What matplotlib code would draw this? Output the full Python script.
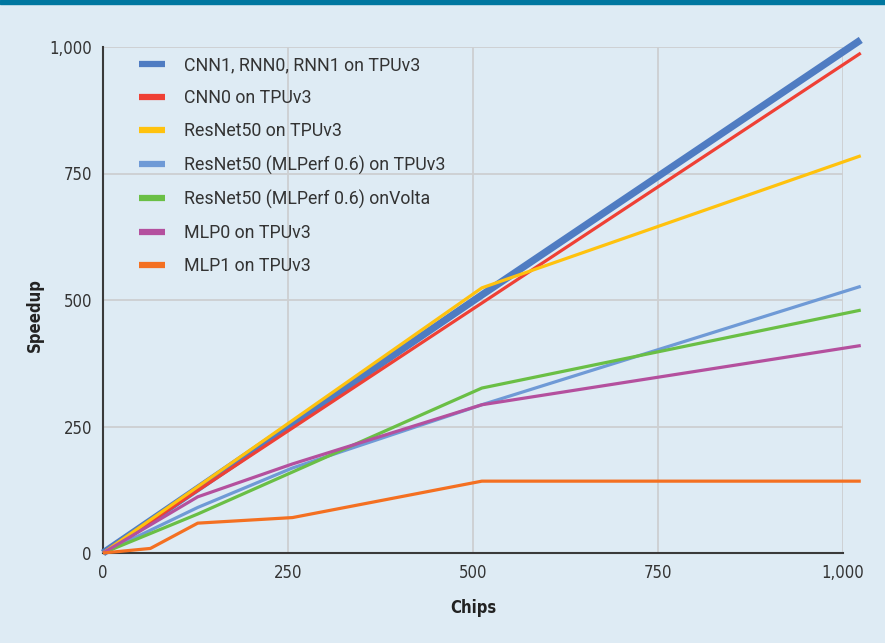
import matplotlib
matplotlib.use('Agg')
import matplotlib.pyplot as plt
from matplotlib.lines import Line2D

# chips / speedup
chips_a = [0, 512, 1024]
cnn1 = [0, 510, 1014]
cnn0 = [0, 494, 988]
resnet = [0, 524, 785]
chips_b = [0, 128, 256, 512, 1024]
resnet_mlperf = [0, 90, 168, 293, 527]
resnet_volta = [0, 77, 160, 326, 480]
mlp0 = [0, 111, 176, 293, 410]
chips_c = [0, 64, 128, 256, 512, 1024]
mlp1 = [0, 9, 59, 70, 142, 142]

labels = ['CNN1, RNN0, RNN1 on TPUv3', 'CNN0 on TPUv3', 'ResNet50 on TPUv3',
          'ResNet50 (MLPerf 0.6) on TPUv3', 'ResNet50 (MLPerf 0.6) onVolta',
          'MLP0 on TPUv3', 'MLP1 on TPUv3']
colors = ['#4f7cc2', '#ef4035', '#ffc20e', '#6f9ad6', '#6abf45', '#b4509e', '#f47021']

bg = '#deebf4'

fig = plt.figure(figsize=(8.85, 6.43), dpi=100, facecolor=bg)
ax = fig.add_axes([103/885, 90/643, 740/885, 506/643])
ax.set_facecolor(bg)

series = [(chips_a, cnn1, 5.2), (chips_a, cnn0, 2.3), (chips_a, resnet, 2.3),
          (chips_b, resnet_mlperf, 2.3), (chips_b, resnet_volta, 2.3),
          (chips_b, mlp0, 2.3), (chips_c, mlp1, 2.3)]
for (x, y, lw), c in zip(series, colors):
    ax.plot(x, y, color=c, lw=lw, clip_on=False, solid_capstyle='butt', zorder=3)

ax.set_xlim(0, 1000)
ax.set_ylim(0, 1000)
ax.set_xticks([0, 250, 500, 750, 1000])
ax.set_yticks([0, 250, 500, 750, 1000])
ax.set_xticklabels(['0', '250', '500', '750', '1,000'])
ax.set_yticklabels(['0', '250', '500', '750', '1,000'])
ax.grid(True, color='#cdcfd1', lw=1.3)
ax.set_axisbelow(True)
for s in ['top', 'right']:
    ax.spines[s].set_visible(False)
for s in ['left', 'bottom']:
    ax.spines[s].set_color('#3a3a3a')
    ax.spines[s].set_linewidth(1.5)
ax.tick_params(length=0, pad=8, labelcolor='#333333')
for t in ax.get_xticklabels() + ax.get_yticklabels():
    t.set_fontfamily('DejaVu Sans')
    t.set_fontstretch('condensed')
    t.set_fontsize(12)
ax.set_xlabel('Chips', fontfamily='DejaVu Sans', fontstretch='condensed', fontweight='bold',
              fontsize=12, color='#222222', labelpad=12)
ax.set_ylabel('Speedup', fontfamily='DejaVu Sans', fontstretch='condensed', fontweight='bold',
              fontsize=12, color='#222222')
ax.yaxis.set_label_coords(-0.08, 0.47)

handles = [Line2D([], [], color=c, lw=4.5, solid_capstyle='butt') for c in colors]
leg = fig.legend(handles, labels, loc='upper left', bbox_to_anchor=(123/885, 1 - 40/643),
                 frameon=False, handlelength=1.45, handletextpad=1.1, labelspacing=0.85,
                 prop={'family': 'Roboto', 'size': 12.8})
for t in leg.get_texts():
    t.set_color('#333333')

# top bar
fig.patches.append(plt.Rectangle((0, 1 - 4/643), 1, 4/643, transform=fig.transFigure,
                                 color='#0077a0', zorder=10))

plt.savefig('out.png', dpi=100, facecolor=bg)
